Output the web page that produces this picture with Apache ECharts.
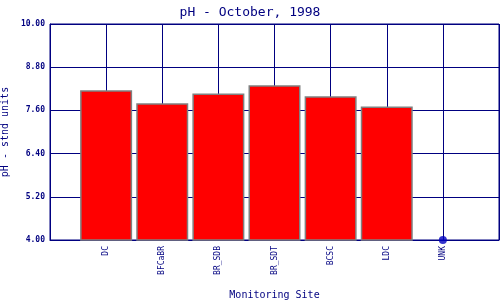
<!DOCTYPE html>
<html>
<head>
<meta charset="utf-8">
<script src="https://cdn.jsdelivr.net/npm/echarts@6/dist/echarts.min.js"></script>
<style>html,body{margin:0;padding:0;background:#fff;}#c{width:500px;height:300px;}</style>
</head>
<body>
<div id="c"></div>
<script>
var sites = ['DC', 'BFCaBR', 'BR_SDB', 'BR_SDT', 'BCSC', 'LDC', 'UNK'];
var phValues = [8.16, 7.80, 8.07, 8.30, 7.99, 7.71, null];
var missingMarkers = [null, null, null, null, null, null, 4.00];
var yTicks = [4.00, 5.20, 6.40, 7.60, 8.80, 10.00];

var navy = '#000080';
var font = 'DejaVu Sans Mono';
var cats = [''].concat(sites).concat(['']);
var barData = [null].concat(phValues).concat([null]);
var dotData = [null].concat(missingMarkers).concat([null]);

var chart = echarts.init(document.getElementById('c'), null, {renderer: 'canvas'});
chart.setOption({
  animation: false,
  backgroundColor: '#ffffff',
  title: {
    text: 'pH - October, 1998',
    left: 'center', top: 1,
    textStyle: {color: navy, fontFamily: font, fontSize: 13, fontWeight: 'normal'}
  },
  grid: {left: 50, top: 24, right: 1, bottom: 60, show: true, borderColor: navy, borderWidth: 1,
    containLabel: false, outerBoundsMode: 'none'},
  xAxis: {
    type: 'category',
    data: cats,
    boundaryGap: false,
    name: 'Monitoring Site',
    nameLocation: 'middle',
    nameGap: 50,
    nameTextStyle: {color: navy, fontFamily: font, fontSize: 10},
    axisLine: {lineStyle: {color: navy, width: 1}},
    axisTick: {show: false},
    axisLabel: {rotate: 90, color: navy, fontFamily: font, fontSize: 8, margin: 6, interval: 0},
    splitLine: {show: true, interval: 0, lineStyle: {color: navy, width: 1}}
  },
  yAxis: {
    type: 'value',
    min: yTicks[0], max: yTicks[yTicks.length - 1], interval: 1.2,
    name: 'pH - stnd units',
    nameLocation: 'middle',
    nameGap: 33,
    nameTextStyle: {color: navy, fontFamily: font, fontSize: 10},
    axisLine: {show: true, lineStyle: {color: navy, width: 1}},
    axisTick: {show: false},
    axisLabel: {color: navy, fontFamily: font, fontSize: 8, fontWeight: 'bold', margin: 5,
      formatter: function (v) { return v.toFixed(2); }},
    splitLine: {show: true, lineStyle: {color: navy, width: 1}}
  },
  series: [
    {
      type: 'bar',
      data: barData,
      barWidth: 52,
      itemStyle: {color: '#ff0000', borderColor: '#808080', borderWidth: 1.5}
    },
    {
      type: 'scatter',
      data: dotData,
      symbol: 'circle',
      symbolSize: 8,
      itemStyle: {color: '#0000c0'},
      clip: false
    }
  ]
});
</script>
</body>
</html>
